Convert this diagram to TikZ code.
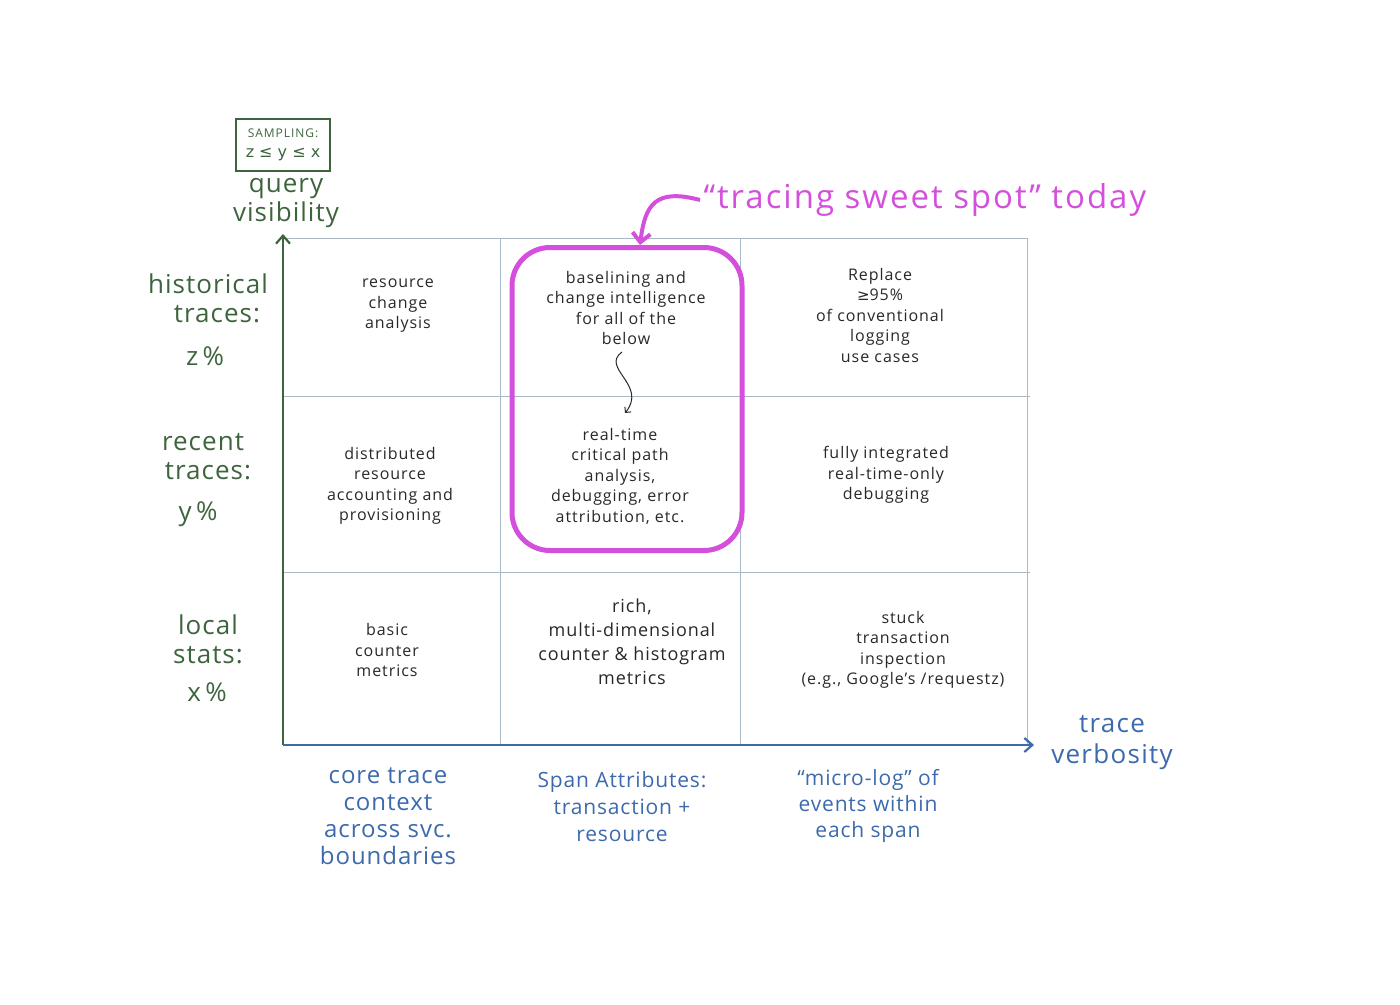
\documentclass[tikz,border=0pt]{standalone}
\usepackage{fontspec}
\setmainfont{Open Sans}
\newfontfamily\symf{DejaVu Sans}
\usetikzlibrary{arrows.meta}
\definecolor{grn}{RGB}{62,100,62}
\definecolor{blu}{RGB}{60,106,172}
\definecolor{mag}{RGB}{212,80,220}
\definecolor{grd}{RGB}{168,184,196}
\definecolor{ink}{RGB}{40,40,40}
\begin{document}
\begin{tikzpicture}[x=1pt,y=-1pt,
  cell/.style={align=center,font=\fontsize{16}{20.5}\selectfont\addfontfeature{LetterSpace=6},text=ink},
  glab/.style={align=center,font=\fontsize{26}{29}\selectfont\addfontfeature{LetterSpace=4},text=grn},
  blab/.style={align=center,font=\fontsize{24}{27}\selectfont\addfontfeature{LetterSpace=4},text=blu},
  gridline/.style={draw=grd,line width=1pt},
  axisg/.style={draw=grn,line width=2.2pt,-{Straight Barb[length=8pt,width=14pt]}},
  axisb/.style={draw=blu,line width=2.2pt,-{Straight Barb[length=8pt,width=14pt]}},
  magline/.style={draw=mag,line width=5pt}]
\useasboundingbox (0,0) rectangle (1400,1004);
% grid
\coordinate (o) at (283,745);
\coordinate (yt) at (283,234);
\coordinate (xt) at (1034,745);
\coordinate (tl) at (283,238);
\coordinate (tr) at (1027,238);
\coordinate (br) at (1027,745);
\draw[gridline] (tl) -- (tr) -- (br);
\draw[gridline] (283,396) -- (1030,396);
\draw[gridline] (283,572) -- (1030,572);
\draw[gridline] (500,238) -- (500,745);
\draw[gridline] (740,238) -- (740,745);
\draw[axisg] (o) -- (yt);
\draw[axisb] (o) -- (xt);
% sampling box
\node[draw=grn,line width=1.3pt,text=grn,align=center,minimum width=94pt,minimum height=52pt,inner sep=2pt,font=\fontsize{12}{20}\selectfont\addfontfeature{LetterSpace=8}] (samp) at (283,145) {SAMPLING:\\{\symf\fontsize{16}{18}\selectfont z ≤ y ≤ x}};
\node[glab] (qv) at (286,203) {query\\visibility};
% row labels
\node[glab] (hist) at (208,298) {historical\\\hspace*{18pt}traces:};
\node[glab] (zp) at (205,356) {z\,\%};
\node[glab] (rec) at (203,457) {recent\\\hspace*{10pt}traces:};
\node[glab] (yp) at (198,514) {y\,\%};
\node[glab] (loc) at (208,639) {local\\stats:};
\node[glab] (xp) at (207,692) {x\,\%};
% cells row 1
\node[cell] (c11) at (398,306) {resource\\change\\analysis};
\node[cell] (c12) at (626,308) {baselining and\\change intelligence\\for all of the\\below};
\node[cell] (c13) at (880,315) {Replace\\{\symf\fontsize{15}{18}\selectfont ≥}95\%\\of conventional\\logging\\use cases};
% cells row 2
\node[cell] (c21) at (390,486) {distributed\\resource\\accounting and\\provisioning};
\node[cell] (c22) at (620,476) {real-time\\critical path\\analysis,\\debugging, error\\attribution, etc.};
\node[cell] (c23) at (886,475) {fully integrated\\real-time-only\\debugging};
% cells row 3
\node[cell] (c31) at (387,650) {basic\\counter\\metrics};
\node[cell,font=\fontsize{18}{24}\selectfont\addfontfeature{LetterSpace=5}] (c32) at (632,642) {rich,\\multi-dimensional\\counter \& histogram\\metrics};
\node[cell] (c33) at (903,650) {stuck\\transaction\\inspection\\(e.g., Google's /requestz)};
% bottom labels
\node[blab] (b1) at (388,816) {core trace\\context\\across svc.\\boundaries};
\node[blab,font=\fontsize{21}{27}\selectfont\addfontfeature{LetterSpace=4}] (b2) at (622,807) {Span Attributes:\\transaction +\\resource};
\node[blab,font=\fontsize{21}{26}\selectfont\addfontfeature{LetterSpace=4}] (b3) at (868,806) {``micro-log'' of\\events within\\each span};
\node[blab,font=\fontsize{26}{31}\selectfont\addfontfeature{LetterSpace=5}] (tv) at (1112,743) {trace\\verbosity};
% sweet spot
\node[magline,rounded corners=38pt,minimum width=230pt,minimum height=303pt] (sweet) at (627,399) {};
\node[text=mag,font=\fontsize{33}{36}\selectfont\addfontfeature{LetterSpace=6},anchor=west] (sst) at (700,200) {``tracing sweet spot'' today};
\draw[mag,line width=4pt,-{Straight Barb[length=9pt,width=18pt]}] (sst.west) .. controls (655,188) and (645,205) .. (sweet.north -| 640,0);
\coordinate (sq1) at (622,352);
\coordinate (sq2) at (625,413);
\draw[ink,line width=1pt,-{Straight Barb[length=4pt,width=8pt]}] (sq1) .. controls (600,368) and (648,385) .. (sq2);
\end{tikzpicture}
\end{document}
